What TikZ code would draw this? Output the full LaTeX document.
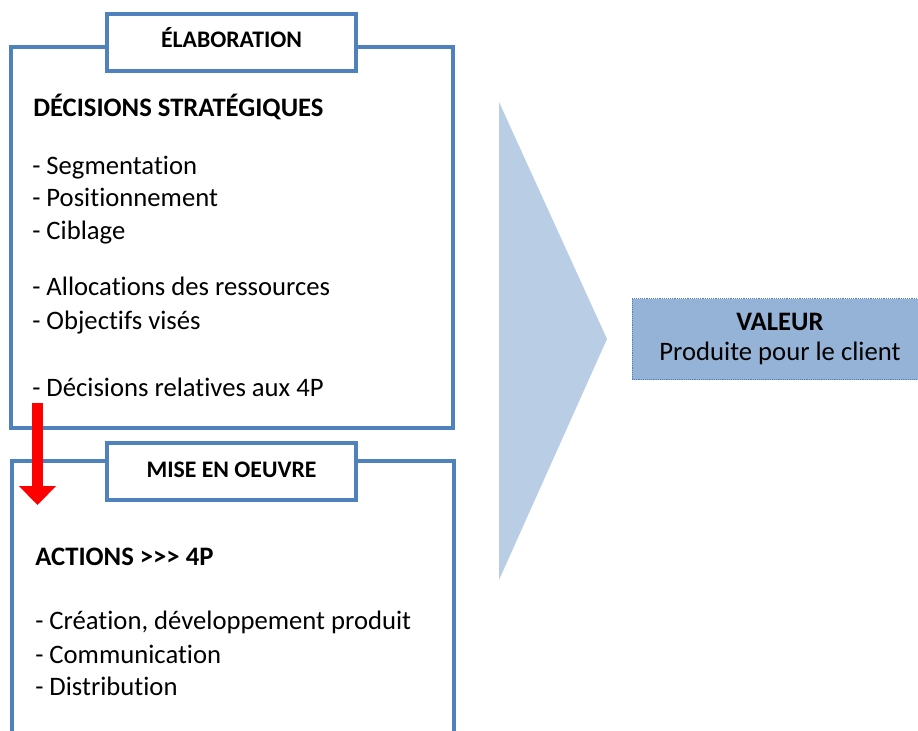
\documentclass[tikz,border=0pt]{standalone}
\usepackage{fontspec}
\setmainfont[Ligatures={NoCommon}]{Carlito}
\usetikzlibrary{arrows.meta}
\definecolor{cadrebleu}{HTML}{4F81BD}
\definecolor{chevronbleu}{HTML}{B9CDE5}
\definecolor{valeurbleu}{HTML}{95B3D7}

\begin{document}
\begin{tikzpicture}[x=0.75pt,y=-0.75pt,
                cadre/.style={draw=cadrebleu,line width=3pt},
                titre/.style={cadre,fill=white,anchor=base,inner sep=0pt,minimum width=186.75pt,
                              text height=25.5pt,text depth=17.25pt,font=\fontsize{17.8}{21}\selectfont\bfseries},
                ligne/.style={anchor=base west,inner sep=0pt,font=\fontsize{20}{24}\selectfont},
                valeur/.style={fill=valeurbleu,draw=cadrebleu,densely dotted,thin,align=center,
                               minimum width=222pt,minimum height=60.75pt,font=\fontsize{20}{22.5}\selectfont}]
  \useasboundingbox (0,0) rectangle (918,731);
  \clip (0,0) rectangle (918,731);

  % cadres
  \draw[cadre] (11,47) rectangle (453,428);
  \draw[cadre] (12,760) -- (12,461) -- (454,461) -- (454,760);
  \fill[chevronbleu] (499,102) -- (607,339) -- (499,580) -- cycle;

  \node[titre]     (elaboration)  at (231.5,48)  { ÉLABORATION };
  \node[titre]     (miseenoeuvre) at (231.5,477) { MISE EN OEUVRE };
  \node[valeur]    (valeur)       at (780,339)   { \textbf{VALEUR}\\Produite pour le client };

  \node[ligne]     (decisions) at (33,117) { \bfseries DÉCISIONS STRATÉGIQUES };
  \node[ligne]     (seg)       at (32,175) { - Segmentation };
  \node[ligne]     (pos)       at (32,207) { - Positionnement };
  \node[ligne]     (cib)       at (32,239) { - Ciblage };
  \node[ligne]     (alloc)     at (32,296) { - Allocations des ressources };
  \node[ligne]     (obj)       at (32,329) { - Objectifs visés };
  \node[ligne]     (rel)       at (32,396) { - Décisions relatives aux 4P };

  \node[ligne]     (actions)   at (35,565) { \bfseries ACTIONS >{}>{}> 4P };
  \node[ligne]     (crea)      at (35,629) { - Création, développement produit };
  \node[ligne]     (comm)      at (35,663) { - Communication };
  \node[ligne]     (dist)      at (35,695) { - Distribution };

  % fleche rouge
  \coordinate (depart)  at (37.5,403);
  \coordinate (arrivee) at (37.5,505);
  \draw[red,line width=8.25pt,-{Triangle[length=14.25pt,width=27pt]}] (depart) -- (arrivee);
\end{tikzpicture}
\end{document}
